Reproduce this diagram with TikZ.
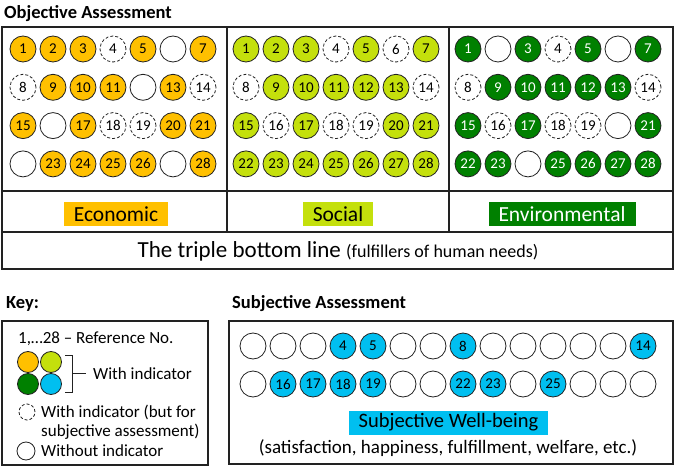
\documentclass[tikz,border=0pt]{standalone}
\usepackage{fontspec}
\setmainfont{Carlito}
\definecolor{ecoY}{HTML}{FFC000}
\definecolor{socG}{HTML}{C4E00C}
\definecolor{envG}{HTML}{008000}
\definecolor{subC}{HTML}{00BFF0}
\definecolor{lineK}{HTML}{222222}
\tikzset{
  cir/.style={circle, draw=lineK, line width=0.8pt, minimum size=26pt, inner sep=0pt, font=\fontsize{15}{15}\selectfont},
  dcir/.style={cir, dash pattern=on 3pt off 2pt},
  frame/.style={draw=lineK, line width=1.5pt},
  lab/.style={inner xsep=10pt, inner ysep=0pt, minimum height=24pt, font=\fontsize{21.5}{21.5}\selectfont},
  ttl/.style={anchor=west, inner sep=0pt, font=\fontsize{18.5}{18.5}\selectfont\bfseries},
  keytxt/.style={anchor=west, inner sep=0pt, font=\fontsize{17}{17}\selectfont},
  kc/.style={circle, draw=lineK, line width=0.8pt, minimum size=21pt, inner sep=0pt},
}
% #1 prefix, #2 x0, #3 fill, #4 text colour, #5 filled, #6 dashed, #7 white
\newcommand\objpanel[7]{%
  \foreach \n in {#5}{%
    \pgfmathtruncatemacro\cc{mod(\n-1,7)}%
    \pgfmathtruncatemacro\rr{(\n-1)/7}%
    \node[cir, fill=#3, text=#4] (#1-\n) at ({#2+30*\cc},{49+38.3*\rr}) {\n};}%
  \foreach \n in {#6}{%
    \pgfmathtruncatemacro\cc{mod(\n-1,7)}%
    \pgfmathtruncatemacro\rr{(\n-1)/7}%
    \node[dcir] (#1-\n) at ({#2+30*\cc},{49+38.3*\rr}) {\n};}%
  \foreach \n in {#7}{%
    \pgfmathtruncatemacro\cc{mod(\n-1,7)}%
    \pgfmathtruncatemacro\rr{(\n-1)/7}%
    \node[cir, fill=white] (#1-\n) at ({#2+30*\cc},{49+38.3*\rr}) {};}%
}
\begin{document}
\begin{tikzpicture}[x=1pt,y=-1pt]
\useasboundingbox (0,0) rectangle (675,468);
% ---------- Objective assessment ----------
\node[ttl] (objtitle) at (4,14) {Objective Assessment};
\draw[frame] (2,27) rectangle (673,269);
\draw[frame] (227,27) -- (227,232);
\draw[frame] (449,27) -- (449,232);
\draw[frame] (2,191) -- (673,191);
\draw[frame] (2,232) -- (673,232);

\objpanel{eco}{23}{ecoY}{black}{1,2,3,5,7,9,10,11,13,15,17,20,21,23,24,25,26,28}{4,8,14,18,19}{6,12,16,22,27}
\objpanel{soc}{246}{socG}{black}{1,2,3,5,7,9,10,11,12,13,15,17,20,21,22,23,24,25,26,27,28}{4,6,8,14,16,18,19}{}
\objpanel{env}{468}{envG}{white}{1,3,5,7,9,10,11,12,13,15,17,21,22,23,25,26,27,28}{4,8,14,16,18,19}{2,6,20,24}

\node[lab, fill=ecoY] (eco) at (116,214) {Economic};
\node[lab, fill=socG] (soc) at (338,214) {Social};
\node[lab, fill=envG, text=white] (env) at (562,214) {Environmental};
\node[inner sep=0pt] (tbl) at (338,251) {\fontsize{23}{23}\selectfont The triple bottom line \fontsize{18}{18}\selectfont(fulfillers of human needs)};

% ---------- Key ----------
\node[ttl] (keytitle) at (6,304) {Key:};
\draw[frame] (2,321) rectangle (208,465);
\node[keytxt] (ref) at (18,339) {1,…28 – Reference No.};
\node[kc, fill=ecoY] (k1) at (28,362) {};
\node[kc, fill=socG] (k2) at (51,362) {};
\node[kc, fill=envG] (k3) at (28,384) {};
\node[kc, fill=subC] (k4) at (51,384) {};
\coordinate (bt) at (65,355);
\coordinate (bb) at (65,392);
\coordinate (bm) at (86,373);
\draw[lineK, line width=0.8pt] (bt) -| (72,373) -- (bm);
\draw[lineK, line width=0.8pt] (72,373) |- (bb);
\node[keytxt] (wi) at (93,374) {With indicator};
\node[circle, draw=lineK, line width=0.8pt, dash pattern=on 3pt off 2pt, minimum size=16pt, inner sep=0pt] (kd) at (27,412) {};
\node[keytxt] (wib) at (41,412) {With indicator (but for};
\node[keytxt] (wib2) at (41,432) {subjective assessment)};
\node[circle, draw=lineK, line width=0.8pt, minimum size=18pt, inner sep=0pt] (kw) at (26,451) {};
\node[keytxt] (woi) at (41,451) {Without indicator};

% ---------- Subjective assessment ----------
\node[ttl] (subtitle) at (232,304) {Subjective Assessment};
\draw[frame] (229,321) rectangle (673,464);
\foreach \n in {4,5,8,14,16,17,18,19,22,23,25}{%
  \pgfmathtruncatemacro\cc{mod(\n-1,14)}%
  \pgfmathtruncatemacro\rr{(\n-1)/14}%
  \node[cir, fill=subC] (sub-\n) at ({253+30*\cc},{346+38*\rr}) {\n};}
\foreach \n in {1,2,3,6,7,9,10,11,12,13,15,20,21,24,26,27,28}{%
  \pgfmathtruncatemacro\cc{mod(\n-1,14)}%
  \pgfmathtruncatemacro\rr{(\n-1)/14}%
  \node[cir, fill=white] (sub-\n) at ({253+30*\cc},{346+38*\rr}) {};}
\node[lab, fill=subC, font=\fontsize{20.5}{20.5}\selectfont] (swb) at (448.5,422.5) {Subjective Well-being};
\node[inner sep=0pt, font=\fontsize{19}{19}\selectfont] (swbsub) at (448,448) {(satisfaction, happiness, fulfillment, welfare, etc.)};
\end{tikzpicture}
\end{document}
